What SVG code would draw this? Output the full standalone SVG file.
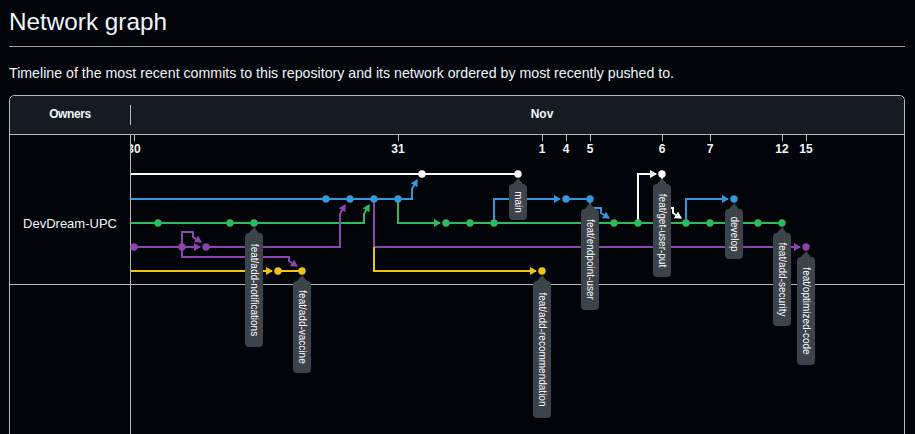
<svg xmlns="http://www.w3.org/2000/svg" width="915" height="434" viewBox="0 0 915 434">
<style>
  .t{font-family:"Liberation Sans",Arial,sans-serif;fill:#f0f6fc}
  .grid{stroke:#b3bac2;stroke-width:1;fill:none}
  .ln{fill:none;stroke-width:2;stroke-linejoin:miter}
  .w{stroke:#ffffff}.b{stroke:#3498db}.g{stroke:#2bbd5d}.p{stroke:#8e44ad}.y{stroke:#f1c40f}
  .dw{fill:#ffffff}.db{fill:#3498db}.dg{fill:#2bbd5d}.dp{fill:#8e44ad}.dy{fill:#f1c40f}
  .date{font-family:"Liberation Sans",Arial,sans-serif;font-size:12px;font-weight:bold;fill:#f0f6fc;text-anchor:middle}
  .tick{stroke:#b3bac2;stroke-width:1}
  .lbl{fill:#3d434b}
  .lt{font-family:"Liberation Sans",Arial,sans-serif;font-size:10px;fill:#ffffff;text-anchor:middle;dominant-baseline:central}
</style>
<defs>
  <marker id="aw" markerUnits="userSpaceOnUse" markerWidth="8" markerHeight="9" refX="6" refY="4.5" orient="auto"><path d="M0,0.5 L7,4.5 L0,8.5 Z" fill="#ffffff"/></marker>
  <marker id="ab" markerUnits="userSpaceOnUse" markerWidth="8" markerHeight="9" refX="6" refY="4.5" orient="auto"><path d="M0,0.5 L7,4.5 L0,8.5 Z" fill="#3498db"/></marker>
  <marker id="ag" markerUnits="userSpaceOnUse" markerWidth="8" markerHeight="9" refX="6" refY="4.5" orient="auto"><path d="M0,0.5 L7,4.5 L0,8.5 Z" fill="#2bbd5d"/></marker>
  <marker id="ap" markerUnits="userSpaceOnUse" markerWidth="8" markerHeight="9" refX="6" refY="4.5" orient="auto"><path d="M0,0.5 L7,4.5 L0,8.5 Z" fill="#8e44ad"/></marker>
  <marker id="ay" markerUnits="userSpaceOnUse" markerWidth="8" markerHeight="9" refX="6" refY="4.5" orient="auto"><path d="M0,0.5 L7,4.5 L0,8.5 Z" fill="#f1c40f"/></marker>
  <clipPath id="gc"><rect x="131" y="134" width="774" height="300"/></clipPath>
</defs>

<rect x="0" y="0" width="915" height="434" fill="#010409"/>

<g id="header">
  <text class="t" x="9" y="30" font-size="24.3">Network graph</text>
  <line x1="9" y1="46.5" x2="905" y2="46.5" stroke="#9aa1a9" stroke-width="1"/>
  <text class="t" x="9" y="78" font-size="14.2">Timeline of the most recent commits to this repository and its network ordered by most recently pushed to.</text>
</g>

<g id="table">
  <path d="M9.5,440 V101 Q9.5,95.5 15,95.5 H899 Q904.5,95.5 904.5,101 V440 Z" fill="#010409" stroke="#b3bac2"/>
  <path d="M10,134 V101 Q10,96 15,96 H899 Q904,96 904,101 V134 Z" fill="#161b22"/>
  <line class="grid" x1="9" y1="134.5" x2="905" y2="134.5"/>
  <line class="grid" x1="130.5" y1="105" x2="130.5" y2="125"/>
  <line class="grid" x1="130.5" y1="134" x2="130.5" y2="434"/>
  <line class="grid" x1="9" y1="284.5" x2="905" y2="284.5"/>
  <text class="t" x="70" y="118" font-size="12" font-weight="bold" letter-spacing="-0.4" text-anchor="middle">Owners</text>
  <text class="t" x="542" y="118" font-size="12" font-weight="bold" text-anchor="middle">Nov</text>
  <text class="t" x="70" y="228" font-size="13" text-anchor="middle">DevDream-UPC</text>
</g>

<g id="dates" clip-path="url(#gc)">
  <line class="tick" x1="134.5" y1="134" x2="134.5" y2="141"/>
  <line class="tick" x1="398.5" y1="134" x2="398.5" y2="141"/>
  <line class="tick" x1="542.5" y1="134" x2="542.5" y2="141"/>
  <line class="tick" x1="566.5" y1="134" x2="566.5" y2="141"/>
  <line class="tick" x1="590.5" y1="134" x2="590.5" y2="141"/>
  <line class="tick" x1="662.5" y1="134" x2="662.5" y2="141"/>
  <line class="tick" x1="710.5" y1="134" x2="710.5" y2="141"/>
  <line class="tick" x1="782.5" y1="134" x2="782.5" y2="141"/>
  <line class="tick" x1="806.5" y1="134" x2="806.5" y2="141"/>
  <text class="date" x="134" y="153">30</text>
  <text class="date" x="398" y="153">31</text>
  <text class="date" x="542" y="153">1</text>
  <text class="date" x="566" y="153">4</text>
  <text class="date" x="590" y="153">5</text>
  <text class="date" x="662" y="153">6</text>
  <text class="date" x="710" y="153">7</text>
  <text class="date" x="782" y="153">12</text>
  <text class="date" x="806" y="153">15</text>
</g>

<g id="connectors" clip-path="url(#gc)">
  <!-- white -->
  <path class="ln w" d="M128,174 H518"/>
  <path class="ln w" d="M638,223 V174 H656" marker-end="url(#aw)"/>
  <path class="ln w" d="M662,174 V208 H673 V213 L681,218" marker-end="url(#aw)"/>
  <!-- blue -->
  <path class="ln b" d="M128,199 H412 V189 L417,180" marker-end="url(#ab)"/>
  <path class="ln b" d="M494,223 V199 H560" marker-end="url(#ab)"/>
  <path class="ln b" d="M566,199 H590"/>
  <path class="ln b" d="M590,199 V208 H601 V213 L609,218" marker-end="url(#ab)"/>
  <path class="ln b" d="M686,223 V199 H728" marker-end="url(#ab)"/>
  <!-- green -->
  <path class="ln g" d="M128,223 H364 V214 L369,205" marker-end="url(#ag)"/>
  <path class="ln g" d="M398,199 V223 H440" marker-end="url(#ag)"/>
  <path class="ln g" d="M446,223 H782"/>
  <!-- purple -->
  <path class="ln p" d="M128,247 H182"/>
  <path class="ln p" d="M182,247 H200" marker-end="url(#ap)"/>
  <path class="ln p" d="M182,247 V232 H193 V237 L201,242" marker-end="url(#ap)"/>
  <path class="ln p" d="M182,247 V257 H289 V261 L297,266" marker-end="url(#ap)"/>
  <path class="ln p" d="M206,247 H340 V214 L345,205" marker-end="url(#ap)"/>
  <path class="ln p" d="M374,199 V247 H800" marker-end="url(#ap)"/>
  <!-- yellow -->
  <path class="ln y" d="M128,271 H272" marker-end="url(#ay)"/>
  <path class="ln y" d="M278,271 H302"/>
  <path class="ln y" d="M374,247 V271 H536" marker-end="url(#ay)"/>
</g>

<g id="commits">
  <g class="dw"><circle cx="422" cy="174" r="3.7"/><circle cx="518" cy="174" r="3.7"/><circle cx="662" cy="174" r="3.7"/></g>
  <g class="db"><circle cx="326" cy="199" r="3.7"/><circle cx="350" cy="199" r="3.7"/><circle cx="374" cy="199" r="3.7"/><circle cx="398" cy="199" r="3.7"/><circle cx="566" cy="199" r="3.7"/><circle cx="590" cy="199" r="3.7"/><circle cx="734" cy="199" r="3.7"/></g>
  <g class="dg"><circle cx="158" cy="223" r="3.7"/><circle cx="230" cy="223" r="3.7"/><circle cx="254" cy="223" r="3.7"/><circle cx="446" cy="223" r="3.7"/><circle cx="470" cy="223" r="3.7"/><circle cx="494" cy="223" r="3.7"/><circle cx="614" cy="223" r="3.7"/><circle cx="638" cy="223" r="3.7"/><circle cx="686" cy="223" r="3.7"/><circle cx="710" cy="223" r="3.7"/><circle cx="758" cy="223" r="3.7"/><circle cx="782" cy="223" r="3.7"/></g>
  <g class="dp"><circle cx="134" cy="247" r="3.7"/><circle cx="182" cy="247" r="3.7"/><circle cx="206" cy="247" r="3.7"/><circle cx="806" cy="247" r="3.7"/></g>
  <g class="dy"><circle cx="278" cy="271" r="3.7"/><circle cx="302" cy="271" r="3.7"/><circle cx="542" cy="271" r="3.7"/></g>
</g>

<g id="label-feat-add-notifications" transform="translate(254,223)">
  <path class="lbl" d="M0,4 L5,10 Q9,10 9,14 V120 Q9,124 5,124 H-5 Q-9,124 -9,120 V14 Q-9,10 -5,10 Z"/>
  <text class="lt" transform="translate(0,67) rotate(90)">feat/add-notifications</text>
</g>
<g id="label-feat-add-vaccine" transform="translate(302,271)">
  <path class="lbl" d="M0,4 L5,10 Q9,10 9,14 V98 Q9,102 5,102 H-5 Q-9,102 -9,98 V14 Q-9,10 -5,10 Z"/>
  <text class="lt" transform="translate(0,56) rotate(90)">feat/add-vaccine</text>
</g>
<g id="label-main" transform="translate(518,174)">
  <path class="lbl" d="M0,4 L5,10 Q9,10 9,14 V42 Q9,46 5,46 H-5 Q-9,46 -9,42 V14 Q-9,10 -5,10 Z"/>
  <text class="lt" transform="translate(0,28) rotate(90)">main</text>
</g>
<g id="label-feat-endpoint-user" transform="translate(590,199)">
  <path class="lbl" d="M0,4 L5,10 Q9,10 9,14 V107 Q9,111 5,111 H-5 Q-9,111 -9,107 V14 Q-9,10 -5,10 Z"/>
  <text class="lt" transform="translate(0,60.5) rotate(90)">feat/endpoint-user</text>
</g>
<g id="label-feat-get-user-put" transform="translate(662,174)">
  <path class="lbl" d="M0,4 L5,10 Q9,10 9,14 V99 Q9,103 5,103 H-5 Q-9,103 -9,99 V14 Q-9,10 -5,10 Z"/>
  <text class="lt" transform="translate(0,56.5) rotate(90)">feat/get-user-put</text>
</g>
<g id="label-develop" transform="translate(734,199)">
  <path class="lbl" d="M0,4 L5,10 Q9,10 9,14 V56 Q9,60 5,60 H-5 Q-9,60 -9,56 V14 Q-9,10 -5,10 Z"/>
  <text class="lt" transform="translate(0,35) rotate(90)">develop</text>
</g>
<g id="label-feat-add-recommendation" transform="translate(542,271)">
  <path class="lbl" d="M0,4 L5,10 Q9,10 9,14 V143 Q9,147 5,147 H-5 Q-9,147 -9,143 V14 Q-9,10 -5,10 Z"/>
  <text class="lt" transform="translate(0,78.5) rotate(90)">feat/add-recommendation</text>
</g>
<g id="label-feat-add-security" transform="translate(782,223)">
  <path class="lbl" d="M0,4 L5,10 Q9,10 9,14 V99 Q9,103 5,103 H-5 Q-9,103 -9,99 V14 Q-9,10 -5,10 Z"/>
  <text class="lt" transform="translate(0,56.5) rotate(90)">feat/add-security</text>
</g>
<g id="label-feat-optimized-code" transform="translate(806,247)">
  <path class="lbl" d="M0,4 L5,10 Q9,10 9,14 V114 Q9,118 5,118 H-5 Q-9,118 -9,114 V14 Q-9,10 -5,10 Z"/>
  <text class="lt" transform="translate(0,64) rotate(90)">feat/optimized-code</text>
</g>
</svg>
